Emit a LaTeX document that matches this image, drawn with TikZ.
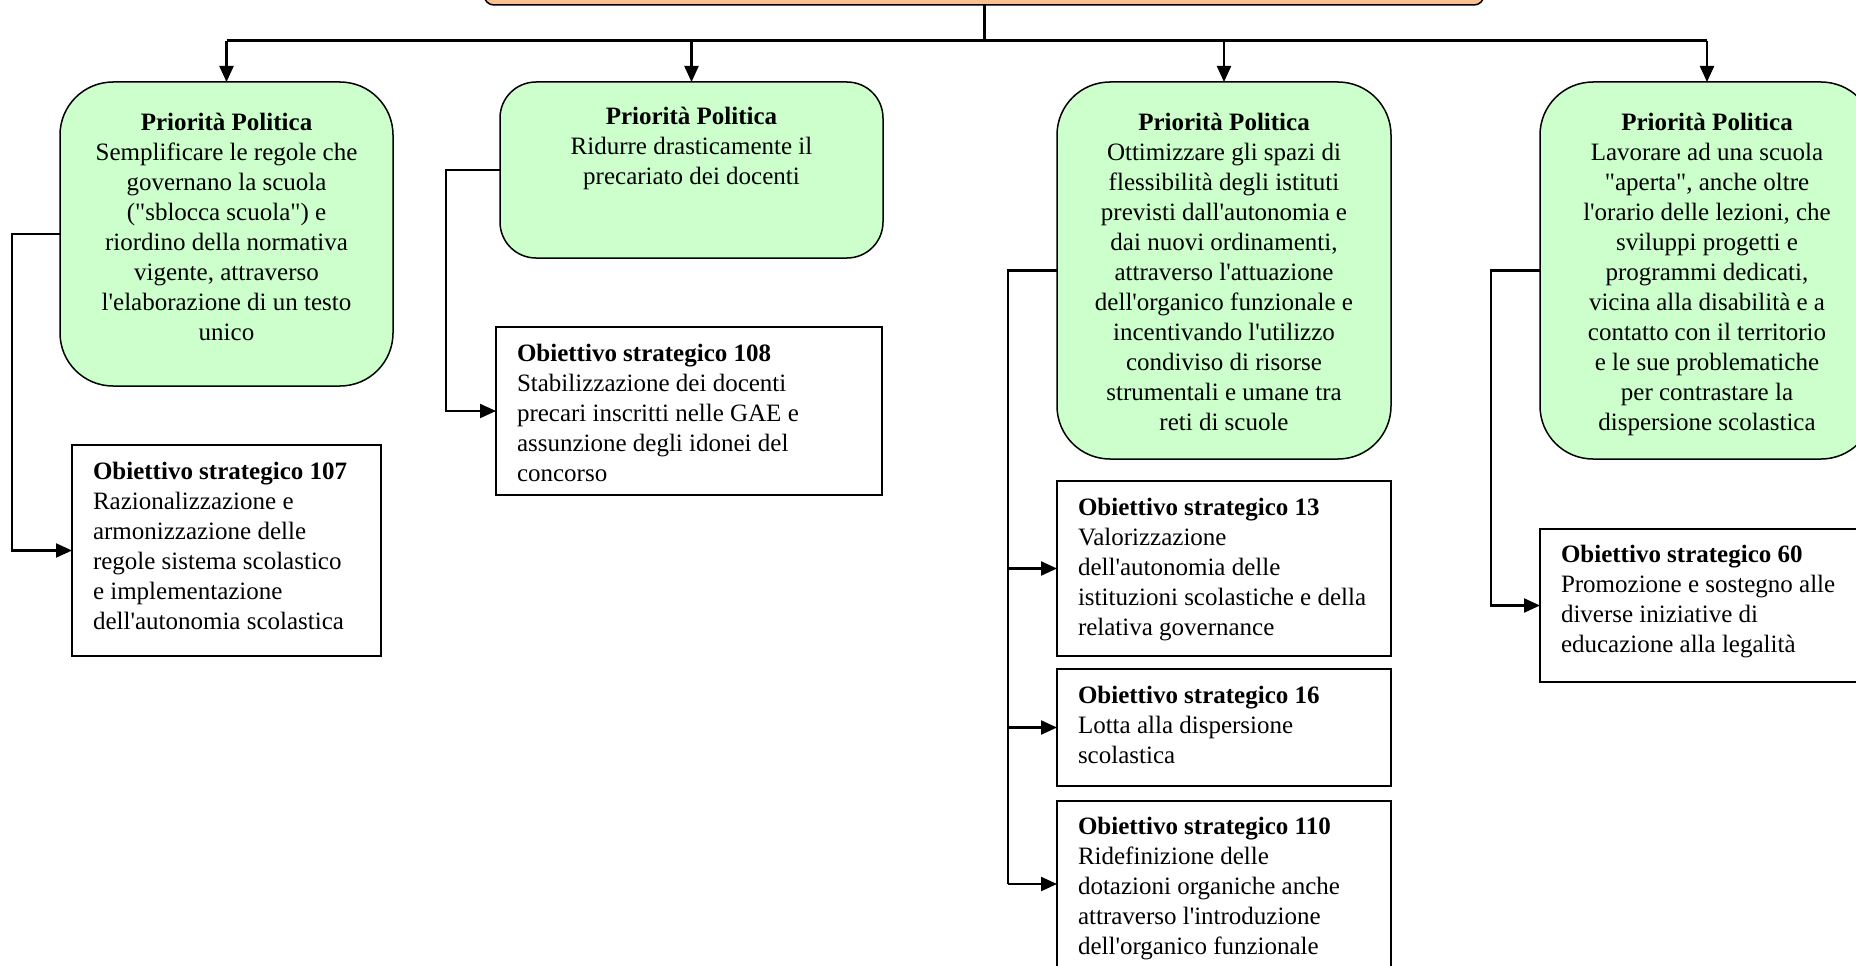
\documentclass[tikz,border=0pt]{standalone}
\usepackage{fontspec}
\setmainfont{Liberation Serif}[Ligatures=TeXOff]
\usetikzlibrary{arrows.meta}

\definecolor{prioGreen}{HTML}{CCFFCC}
\definecolor{topOrange}{HTML}{FAC090}

% Body of a priority box: width, height, first baseline, text (centred)
\newcommand\prioText[4]{\parbox[c][#2pt][t]{#1pt}{\centering\rule{0pt}{#3pt}\textbf{Priorità Politica}\\#4}}
% Body of an objective box: width, height, first baseline, number, text (left)
\newcommand\objText[5]{\hspace*{21pt}\parbox[c][#2pt][t]{\dimexpr#1pt-21pt\relax}{\raggedright\rule{0pt}{#3pt}\textbf{Obiettivo strategico #4}\\#5}}

\begin{document}
\begin{tikzpicture}[x=1pt,y=-1pt,
  every node/.style={inner sep=0pt, outer sep=0pt, font=\fontsize{25}{30}\selectfont},
  prbox/.style={draw, line width=1.5pt, fill=prioGreen, rounded corners=53pt},
  obbox/.style={draw, line width=1.5pt, fill=white},
  link/.style={line width=2.2pt},
  feed/.style={link, -{Triangle[length=16pt,width=14pt]}},
  trunk/.style={line width=3pt}]

\useasboundingbox (0,0) rectangle (1856,966);
\clip (0,0) rectangle (1856,966);

% top box (only its lower edge is in view)
\node[draw, line width=1.5pt, fill=topOrange, rounded corners=10pt,
      minimum width=1000pt, minimum height=60pt] (top) at (984,-25) {};

% priorities
\node[prbox] (g1) at (226.5,234) {\prioText{333}{304}{48}{Semplificare le regole che\\governano la scuola\\("sblocca scuola") e\\riordino della normativa\\vigente, attraverso\\l'elaborazione di un testo\\unico}};
\node[prbox, rounded corners=36pt] (g2) at (691.5,170) {\prioText{383}{176}{42}{Ridurre drasticamente il\\precariato dei docenti}};
\node[prbox] (g3) at (1224,270.5) {\prioText{334}{377}{48}{Ottimizzare gli spazi di\\flessibilità degli istituti\\previsti dall'autonomia e\\dai nuovi ordinamenti,\\attraverso l'attuazione\\dell'organico funzionale e\\incentivando l'utilizzo\\condiviso di risorse\\strumentali e umane tra\\reti di scuole}};
\node[prbox] (g4) at (1707,270.5) {\prioText{334}{377}{48}{Lavorare ad una scuola\\"aperta", anche oltre\\l'orario delle lezioni, che\\sviluppi progetti e\\programmi dedicati,\\vicina alla disabilità e a\\contatto con il territorio\\e le sue problematiche\\per contrastare la\\dispersione scolastica}};

% strategic objectives
\node[obbox] (o107) at (226.5,550.5) {\objText{309}{211}{34}{107}{Razionalizzazione e\\armonizzazione delle\\regole sistema scolastico\\e implementazione\\dell'autonomia scolastica}};
\node[obbox] (o108) at (689,411) {\objText{386}{168}{34}{108}{Stabilizzazione dei docenti\\precari inscritti nelle GAE e\\assunzione degli idonei del\\concorso}};
\node[obbox] (o13) at (1224,568.5) {\objText{334}{175}{34}{13}{Valorizzazione\\dell'autonomia delle\\istituzioni scolastiche e della\\relativa governance}};
\node[obbox] (o16) at (1224,727.5) {\objText{334}{117}{34}{16}{Lotta alla dispersione\\scolastica}};
\node[obbox] (o110) at (1224,884) {\objText{334}{166}{33}{110}{Ridefinizione delle\\dotazioni organiche anche\\attraverso l'introduzione\\dell'organico funzionale}};
\node[obbox] (o60) at (1707,605.5) {\objText{334}{153}{33}{60}{Promozione e sostegno alle\\diverse iniziative di\\educazione alla legalità}};

% distribution from the top box
\coordinate (bus) at (984,41);
\draw[trunk] (top.south) -- (top.south |- bus);
\draw[trunk] (g1.north |- bus) -- (g4.north |- bus);
\foreach \p in {g1,g2,g3,g4} \draw[feed] (\p.north |- bus) -- (\p.north);

% priorities to objectives
\draw[feed] (g1.west) -- ++(-48,0) |- (o107.west);
\draw[feed] (g2.west) -- ++(-54,0) |- (o108.west);
\draw[link] (g3.west) -- ++(-49,0) coordinate (j3) -- (j3 |- o110.west);
\foreach \o in {o13,o16,o110} \draw[feed] (j3 |- \o.west) -- (\o.west);
\draw[feed] (g4.west) -- ++(-49,0) |- (o60.west);

\end{tikzpicture}
\end{document}
